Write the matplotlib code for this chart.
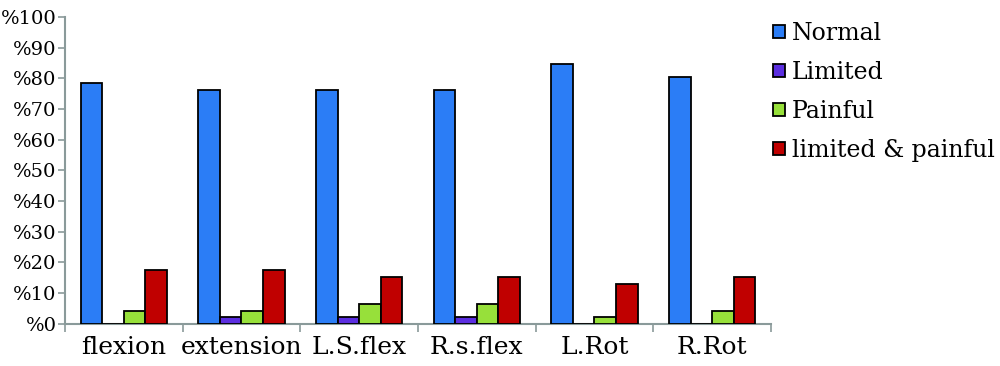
import matplotlib
matplotlib.use("Agg")
import matplotlib.pyplot as plt
import numpy as np

categories = ["flexion", "extension", "L.S.flex", "R.s.flex", "L.Rot", "R.Rot"]
series_names = ["Normal", "Limited", "Painful", "limited & painful"]
normal = [78.3, 76.1, 76.1, 76.1, 84.8, 80.4]
limited = [0, 2.2, 2.2, 2.2, 0, 0]
painful = [4.3, 4.3, 6.5, 6.5, 2.2, 4.3]
lim_pain = [17.4, 17.4, 15.2, 15.2, 13.0, 15.2]
yticks = list(range(0, 101, 10))
ytick_labels = ["%" + str(v) for v in yticks]

colors = ["#2B7DF6", "#5B2EE0", "#97E03A", "#C00000"]

plt.rcParams['font.family'] = ['DejaVu Serif']

fig = plt.figure(figsize=(10, 3.66), dpi=100)
ax = fig.add_axes([0.065, 0.115, 0.706, 0.839])

x = np.arange(len(categories))
w = 0.183
data = [normal, limited, painful, lim_pain]
for i, (vals, c, name) in enumerate(zip(data, colors, series_names)):
    ax.bar(x + (i - 1.5) * w, vals, w, color=c, edgecolor="black", linewidth=1.3, label=name, zorder=3)

ax.set_xlim(-0.5, len(categories) - 0.5)
ax.set_ylim(0, 100)
ax.set_yticks(yticks)
ax.set_yticklabels(ytick_labels, fontsize=14)
ax.set_xticks(x)
ax.set_xticklabels(categories, fontsize=18)
ax.tick_params(axis="x", length=0, pad=9)
ax.set_xticks(np.arange(-0.5, len(categories), 1), minor=True)
ax.tick_params(axis="x", which="minor", length=6, color="#8A9A9A", width=1.2)
ax.tick_params(axis="y", length=5, color="#8A9A9A", width=1.2, pad=1)

for s in ["top", "right"]:
    ax.spines[s].set_visible(False)
for s in ["left", "bottom"]:
    ax.spines[s].set_color("#8A9A9A")
    ax.spines[s].set_linewidth(1.5)

leg = fig.legend(loc="upper left", bbox_to_anchor=(0.764, 0.967), frameon=False,
                 fontsize=17, handlelength=0.48, handleheight=0.48, handletextpad=0.3,
                 labelspacing=0.68, borderaxespad=0)

fig.savefig("out.png", dpi=100)
